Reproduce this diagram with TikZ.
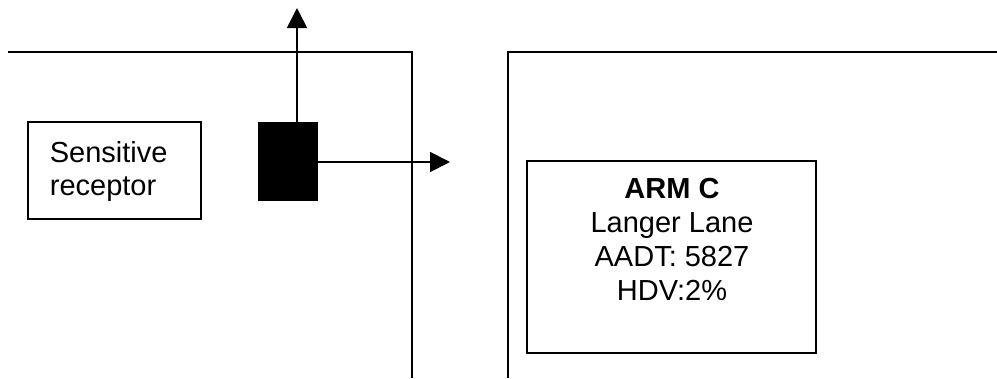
\documentclass[tikz,border=0pt]{standalone}
\usepackage{fontspec}
\setmainfont{Liberation Sans}
\usetikzlibrary{arrows.meta}
\begin{document}
\begin{tikzpicture}[x=1pt,y=-1pt,
  line width=1.8pt,
  boxstyle/.style={draw=black,line width=1.6pt,fill=white,inner sep=0pt},
  txt/.style={inner sep=0pt,font={\fontsize{29}{33}\selectfont}},
  arr/.style={-{Triangle[length=20pt,width=20pt]},line width=1.8pt}]
\useasboundingbox (0,0) rectangle (997,378);
% roads
\draw (8,52) -- (412,52) -- (412,378);
\draw (508,378) -- (508,52) -- (997,52);
% sensitive receptor
\node[boxstyle,minimum width=173pt,minimum height=97pt] (rec) at (114.5,170.5) {};
\node[txt,anchor=base west] (rec1) at (49,162) {Sensitive};
\node[txt,anchor=base west] (rec2) at (49,195) {receptor};
% source
\node[fill=black,draw=black,line width=0.5pt,inner sep=0pt,minimum width=59pt,minimum height=78pt] (src) at (287.5,161) {};
\coordinate (uptip) at (297,8);
\coordinate (righttip) at (450,162);
\draw[arr] (src.north -| uptip) -- (uptip);
\draw[arr] (src.east |- righttip) -- (righttip);
% ARM C
\node[boxstyle,minimum width=289pt,minimum height=192pt] (armc) at (671.5,257) {};
\node[txt,anchor=base,font={\fontsize{29}{33}\selectfont\bfseries}] (a1) at (672,198) {ARM C};
\node[txt,anchor=base] (a2) at (672,232.5) {Langer Lane};
\node[txt,anchor=base] (a3) at (672,266.5) {AADT: 5827};
\node[txt,anchor=base] (a4) at (672,300) {HDV:2\%};
\end{tikzpicture}
\end{document}
